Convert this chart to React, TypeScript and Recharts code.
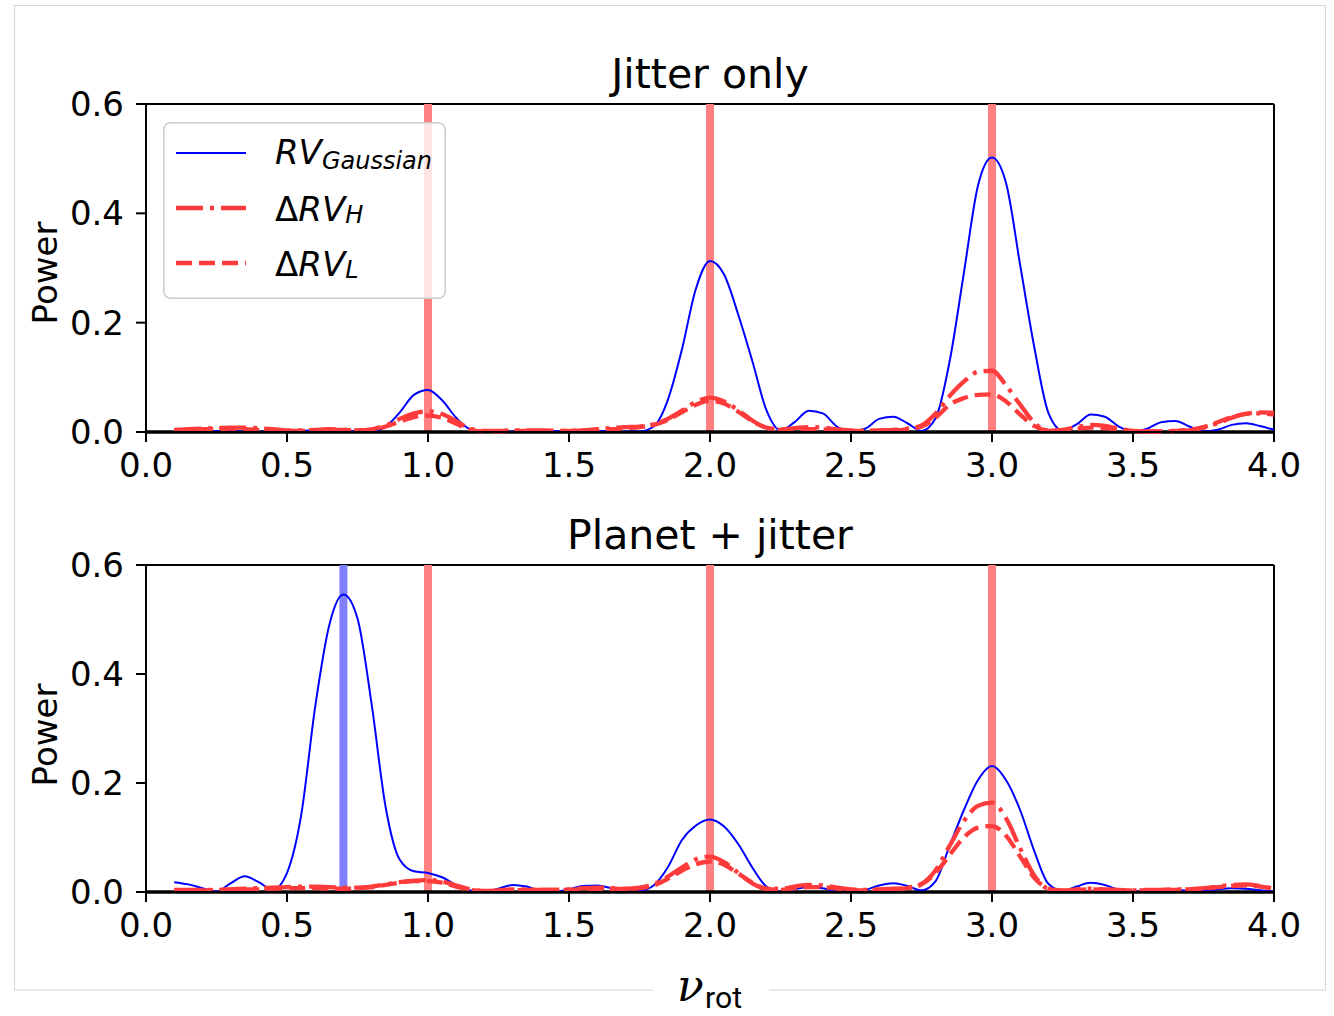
import React from 'react';
import { LineChart, Line, XAxis, YAxis, ReferenceLine, Legend } from 'recharts';

const freq = [
  0.10, 0.15, 0.20, 0.25, 0.30, 0.35, 0.40, 0.45, 0.50, 0.55,
  0.60, 0.65, 0.70, 0.75, 0.80, 0.85, 0.90, 0.95, 1.00, 1.05,
  1.10, 1.15, 1.20, 1.25, 1.30, 1.35, 1.40, 1.45, 1.50, 1.55,
  1.60, 1.65, 1.70, 1.75, 1.80, 1.85, 1.90, 1.95, 2.00, 2.05,
  2.10, 2.15, 2.20, 2.25, 2.30, 2.35, 2.40, 2.45, 2.50, 2.55,
  2.60, 2.65, 2.70, 2.75, 2.80, 2.85, 2.90, 2.95, 3.00, 3.05,
  3.10, 3.15, 3.20, 3.25, 3.30, 3.35, 3.40, 3.45, 3.50, 3.55,
  3.60, 3.65, 3.70, 3.75, 3.80, 3.85, 3.90, 3.95, 4.00,
];

// Jitter only
const jitterGaussian = [
  0.002, 0.001, 0.001, 0.002, 0.002, 0.001, 0.001, 0.002, 0.002, 0.002,
  0.003, 0.004, 0.003, 0.001, 0.002, 0.010, 0.036, 0.068, 0.077, 0.058,
  0.026, 0.005, 0.001, 0.001, 0.001, 0.002, 0.002, 0.002, 0.001, 0.001,
  0.002, 0.002, 0.001, 0.001, 0.010, 0.058, 0.150, 0.262, 0.313, 0.288,
  0.215, 0.130, 0.040, 0.003, 0.018, 0.039, 0.034, 0.010, 0.001, 0.006,
  0.024, 0.028, 0.016, 0.002, 0.025, 0.130, 0.290, 0.450, 0.502, 0.455,
  0.305, 0.155, 0.035, 0.003, 0.014, 0.032, 0.028, 0.010, 0.001, 0.006,
  0.018, 0.020, 0.010, 0.001, 0.004, 0.013, 0.016, 0.011, 0.004,
];
const jitterH = [
  0.004, 0.005, 0.006, 0.007, 0.008, 0.008, 0.007, 0.005, 0.003, 0.003,
  0.004, 0.005, 0.004, 0.003, 0.005, 0.012, 0.024, 0.034, 0.038, 0.033,
  0.020, 0.006, 0.002, 0.002, 0.003, 0.003, 0.003, 0.002, 0.002, 0.003,
  0.005, 0.007, 0.009, 0.010, 0.014, 0.024, 0.039, 0.055, 0.063, 0.056,
  0.040, 0.021, 0.008, 0.005, 0.007, 0.009, 0.008, 0.005, 0.003, 0.002,
  0.003, 0.004, 0.006, 0.012, 0.034, 0.066, 0.092, 0.110, 0.112, 0.085,
  0.050, 0.017, 0.002, 0.004, 0.009, 0.013, 0.011, 0.006, 0.002, 0.001,
  0.001, 0.002, 0.003, 0.008, 0.016, 0.026, 0.033, 0.034, 0.032,
];
const jitterL = [
  0.003, 0.004, 0.005, 0.005, 0.006, 0.005, 0.004, 0.003, 0.002, 0.002,
  0.003, 0.004, 0.004, 0.003, 0.004, 0.010, 0.019, 0.027, 0.030, 0.026,
  0.015, 0.004, 0.001, 0.001, 0.002, 0.002, 0.002, 0.002, 0.002, 0.003,
  0.004, 0.005, 0.007, 0.009, 0.013, 0.022, 0.036, 0.050, 0.057, 0.052,
  0.037, 0.020, 0.008, 0.004, 0.004, 0.005, 0.005, 0.003, 0.002, 0.002,
  0.002, 0.003, 0.005, 0.010, 0.026, 0.050, 0.062, 0.068, 0.069, 0.056,
  0.032, 0.011, 0.003, 0.003, 0.006, 0.008, 0.007, 0.004, 0.002, 0.001,
  0.001, 0.002, 0.004, 0.009, 0.018, 0.027, 0.033, 0.036, 0.035,
];

// Planet + jitter
const planetGaussian = [
  0.018, 0.014, 0.007, 0.001, 0.016, 0.029, 0.018, 0.004, 0.035, 0.140,
  0.340, 0.490, 0.546, 0.502, 0.345, 0.155, 0.059, 0.038, 0.035, 0.027,
  0.013, 0.003, 0.001, 0.006, 0.013, 0.010, 0.002, 0.001, 0.005, 0.011,
  0.012, 0.007, 0.001, 0.002, 0.012, 0.045, 0.095, 0.122, 0.133, 0.120,
  0.088, 0.045, 0.010, 0.001, 0.005, 0.009, 0.007, 0.002, 0.001, 0.004,
  0.012, 0.016, 0.011, 0.003, 0.020, 0.085, 0.150, 0.205, 0.231, 0.205,
  0.150, 0.075, 0.015, 0.002, 0.010, 0.017, 0.013, 0.004, 0.001, 0.002,
  0.004, 0.004, 0.002, 0.002, 0.005, 0.007, 0.006, 0.003, 0.001,
];
const planetH = [
  0.004, 0.004, 0.004, 0.004, 0.005, 0.006, 0.007, 0.008, 0.009, 0.010,
  0.010, 0.009, 0.008, 0.008, 0.010, 0.014, 0.018, 0.021, 0.022, 0.019,
  0.012, 0.005, 0.002, 0.003, 0.005, 0.005, 0.004, 0.004, 0.005, 0.007,
  0.008, 0.007, 0.006, 0.008, 0.014, 0.028, 0.045, 0.060, 0.065, 0.055,
  0.035, 0.016, 0.006, 0.006, 0.010, 0.013, 0.012, 0.008, 0.005, 0.004,
  0.005, 0.006, 0.008, 0.015, 0.040, 0.085, 0.130, 0.158, 0.164, 0.135,
  0.080, 0.030, 0.006, 0.003, 0.005, 0.006, 0.005, 0.004, 0.003, 0.004,
  0.004, 0.005, 0.005, 0.007, 0.010, 0.013, 0.014, 0.011, 0.006,
];
const planetL = [
  0.003, 0.003, 0.003, 0.003, 0.004, 0.005, 0.005, 0.006, 0.007, 0.007,
  0.007, 0.006, 0.006, 0.007, 0.009, 0.013, 0.017, 0.020, 0.020, 0.017,
  0.010, 0.004, 0.002, 0.002, 0.003, 0.004, 0.004, 0.004, 0.004, 0.005,
  0.006, 0.006, 0.005, 0.007, 0.012, 0.024, 0.039, 0.051, 0.056, 0.050,
  0.034, 0.017, 0.006, 0.004, 0.007, 0.009, 0.009, 0.006, 0.004, 0.003,
  0.004, 0.005, 0.007, 0.014, 0.035, 0.068, 0.100, 0.118, 0.121, 0.103,
  0.065, 0.026, 0.006, 0.002, 0.004, 0.005, 0.004, 0.003, 0.003, 0.003,
  0.004, 0.004, 0.005, 0.006, 0.009, 0.011, 0.012, 0.010, 0.006,
];

const xTicks = [0, 0.5, 1, 1.5, 2, 2.5, 3, 3.5, 4];
const yTicks = [0, 0.2, 0.4, 0.6];
const rotationHarmonics = [1, 2, 3];
const planetFrequencies = [0.7];

const BLUE = '#0000ff';
const RED = '#ff3b3b';
const FONT = 'DejaVu Sans, sans-serif';

const build = (g: number[], h: number[], l: number[]) =>
  freq.map((x, i) => ({ x, g: g[i], h: h[i], l: l[i] }));

const jitterRows = build(jitterGaussian, jitterH, jitterL);
const planetRows = build(planetGaussian, planetH, planetL);

const LegendBox = () => (
  <svg width={283} height={177} style={{ display: 'block' }}>
    <rect x={0.75} y={0.75} width={281.5} height={175.5} rx={7} ry={7}
      fill="#ffffff" fillOpacity={0.8} stroke="#cccccc" strokeWidth={1.5} />
    <line x1={13} x2={83} y1={31} y2={31} stroke={BLUE} strokeWidth={2} />
    <line x1={13} x2={83} y1={86} y2={86} stroke={RED} strokeWidth={4.3} strokeDasharray="27 7 4 7" />
    <line x1={13} x2={83} y1={141} y2={141} stroke={RED} strokeWidth={4.3} strokeDasharray="16 7" />
    <text x={112} y={42} fontFamily={FONT} fontSize={34} fill="#000">
      <tspan fontStyle="italic">RV</tspan>
      <tspan fontStyle="italic" fontSize={24} dy={5}>Gaussian</tspan>
    </text>
    <text x={112} y={99} fontFamily={FONT} fontSize={34} fill="#000">
      <tspan>Δ</tspan>
      <tspan fontStyle="italic">RV</tspan>
      <tspan fontStyle="italic" fontSize={24} dy={2}>H</tspan>
    </text>
    <text x={112} y={154} fontFamily={FONT} fontSize={34} fill="#000">
      <tspan>Δ</tspan>
      <tspan fontStyle="italic">RV</tspan>
      <tspan fontStyle="italic" fontSize={24} dy={2}>L</tspan>
    </text>
  </svg>
);

type PanelProps = {
  rows: { x: number; g: number; h: number; l: number }[];
  top: number;
  height: number;
  planet?: boolean;
  legend?: boolean;
};

const Panel = ({ rows, top, height, planet, legend }: PanelProps) => (
  <div style={{ position: 'absolute', left: 0, top, width: 1334, height }}>
    <LineChart width={1334} height={height} data={rows}
      margin={{ top: 104, right: 60, bottom: 18, left: 66 }}>
      <XAxis type="number" dataKey="x" domain={[0, 4]} ticks={xTicks} interval={0}
        tickFormatter={(v: number) => v.toFixed(1)}
        tick={{ fill: '#000', fontSize: 34, fontFamily: FONT }}
        tickSize={10} tickMargin={11} height={50}
        axisLine={{ stroke: '#000', strokeWidth: 2 }}
        tickLine={{ stroke: '#000', strokeWidth: 2 }} />
      <YAxis type="number" domain={[0, 0.6]} ticks={yTicks} interval={0} width={80}
        tickFormatter={(v: number) => v.toFixed(1)}
        tick={{ fill: '#000', fontSize: 34, fontFamily: FONT }}
        tickSize={10} tickMargin={12}
        axisLine={{ stroke: '#000', strokeWidth: 2 }}
        tickLine={{ stroke: '#000', strokeWidth: 2 }} />
      <ReferenceLine y={0.6} stroke="#000" strokeWidth={2} />
      <ReferenceLine x={4} stroke="#000" strokeWidth={2} />
      {rotationHarmonics.map((f) => (
        <ReferenceLine key={'r' + f} x={f} stroke="#ff8080" strokeWidth={8} />
      ))}
      {planet && planetFrequencies.map((f) => (
        <ReferenceLine key={'p' + f} x={f} stroke="#8080ff" strokeWidth={8} />
      ))}
      <ReferenceLine y={0} stroke="#000" strokeWidth={3.5} />
      <Line dataKey="g" type="monotone" stroke={BLUE} strokeWidth={2} dot={false} isAnimationActive={false} />
      <Line dataKey="h" type="monotone" stroke={RED} strokeWidth={4.3} strokeDasharray="27 7 4 7" dot={false} isAnimationActive={false} />
      <Line dataKey="l" type="monotone" stroke={RED} strokeWidth={4.3} strokeDasharray="16 7" dot={false} isAnimationActive={false} />
      {legend && (
        <Legend layout="vertical" align="center" verticalAlign="middle"
          wrapperStyle={{ left: 163, top: 122, width: 283, height: 177 }}
          content={() => <LegendBox />} />
      )}
    </LineChart>
  </div>
);

export default function App() {
  return (
    <div style={{ position: 'absolute', left: 0, top: 0, width: 1334, height: 1016, background: '#fff' }}>
      <svg width={1334} height={1016} style={{ position: 'absolute', left: 0, top: 0 }}>
        <rect x={14.5} y={5.5} width={1311} height={984.5} fill="none" stroke="#d6d6d6" strokeWidth={1} />
        <text x={710} y={88} textAnchor="middle" fontFamily={FONT} fontSize={41} fill="#000">Jitter only</text>
        <text x={710} y={549} textAnchor="middle" fontFamily={FONT} fontSize={41} fill="#000">Planet + jitter</text>
        <text x={57} y={273} transform="rotate(-90, 57, 273)" textAnchor="middle" fontFamily={FONT} fontSize={34} fill="#000">Power</text>
        <text x={57} y={735} transform="rotate(-90, 57, 735)" textAnchor="middle" fontFamily={FONT} fontSize={34} fill="#000">Power</text>
        <rect x={653} y={978} width={116} height={38} fill="#fff" />
        <text x={677} y={1001} fontFamily="DejaVu Serif, serif" fontStyle="italic" fontSize={44} fill="#000">ν</text>
        <text x={705} y={1008} fontFamily="Roboto, sans-serif" fontSize={30} fill="#000" textLength={37} lengthAdjust="spacingAndGlyphs">rot</text>
      </svg>
      <Panel rows={jitterRows} top={0} height={500} legend />
      <Panel rows={planetRows} top={461} height={499} planet />
    </div>
  );
}
